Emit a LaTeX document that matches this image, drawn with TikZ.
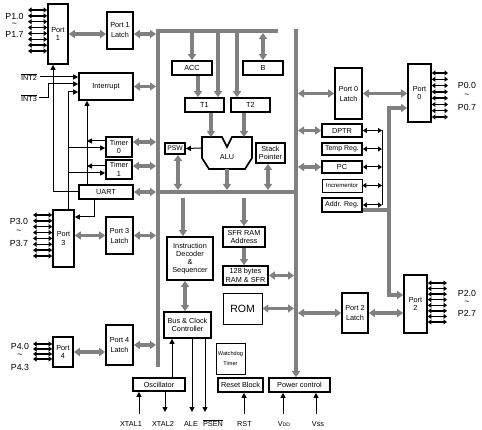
\documentclass[tikz,border=0pt]{standalone}
\usepackage{fontspec}
\setmainfont{Liberation Sans}
\usetikzlibrary{arrows.meta}
\definecolor{gbus}{RGB}{128,128,128}
\begin{document}
\begin{tikzpicture}[x=1pt,y=-1pt,
  box/.style={draw, line width=1.7pt, align=center, inner sep=0pt, font=\fontsize{7.3}{8.5}\selectfont},
  latch/.style={box, font=\fontsize{7.3}{10}\selectfont},
  thinbox/.style={box, line width=0.9pt},
  gl/.style={draw=gbus, line width=4pt},
  gc/.style={draw=gbus, line width=3.5pt},
  g1/.style={gc, -{Triangle[length=6pt,width=8pt]}},
  g2/.style={gc, {Triangle[length=6pt,width=8pt]}-{Triangle[length=6pt,width=8pt]}},
  sig/.style={line width=1pt, -{Triangle[length=5pt,width=5pt]}},
  sig2/.style={line width=1pt, {Triangle[length=4pt,width=5pt]}-{Triangle[length=4pt,width=5pt]}},
  wire/.style={line width=1pt},
  pin/.style={line width=1.4pt, {Triangle[length=3.5pt,width=5pt]}-{Triangle[length=3.5pt,width=5pt]}},
  lbl/.style={font=\fontsize{8.8}{9}\selectfont, inner sep=0pt},
  blbl/.style={font=\fontsize{7.3}{8}\selectfont, inner sep=0pt}]
\fill[white] (0,0) rectangle (482,430);
\useasboundingbox (0,0) rectangle (482,430);

% bus reference coordinates
\coordinate (busL) at (158,0);
\coordinate (busR) at (296,0);
\coordinate (bLl) at (156,0);
\coordinate (bRl) at (294,0);
\coordinate (bRr) at (298,0);
\coordinate (bTb) at (0,33);
\coordinate (bMt) at (0,190);
\coordinate (bMg) at (0,198);

% ---------- left column ----------
\node[box,minimum width=20pt,minimum height=60pt] (port1) at (58,34) {Port\\1};
\node[latch,minimum width=26pt,minimum height=37pt] (p1l) at (120,30.5) {Port 1\\Latch};
\node[box,minimum width=54pt,minimum height=27pt] (intr) at (106,86.5) {Interrupt};
\node[box,minimum width=26pt,minimum height=20pt] (tim0) at (119,147) {Timer\\0};
\node[box,minimum width=26pt,minimum height=19pt] (tim1) at (119,169.5) {Timer\\1};
\node[box,minimum width=54pt,minimum height=14pt] (uart) at (106,192) {UART};
\node[box,minimum width=21pt,minimum height=57pt] (port3) at (63.5,238.5) {Port\\3};
\node[latch,minimum width=27pt,minimum height=37pt] (p3l) at (119.5,235.5) {Port 3\\Latch};
\node[box,minimum width=20pt,minimum height=30pt] (port4) at (63,352) {Port\\4};
\node[latch,minimum width=27pt,minimum height=40pt] (p4l) at (119.5,345) {Port 4\\Latch};

% ---------- centre ----------
\node[box,minimum width=40pt,minimum height=14pt] (acc) at (192,68) {ACC};
\node[box,minimum width=40pt,minimum height=14pt] (regb) at (263,68) {B};
\node[box,minimum width=39pt,minimum height=14pt] (t1) at (204.5,105) {T1};
\node[box,minimum width=39pt,minimum height=14pt] (t2) at (250.5,105) {T2};
\node[box,minimum width=20pt,minimum height=11pt,font=\fontsize{6.8}{7}\selectfont] (psw) at (175,148.5) {PSW};
\node[box,minimum width=29pt,minimum height=20pt] (sp) at (270.5,153) {Stack\\Pointer};
\draw[line width=1.7pt] (202,137) -- (222,137) -- (227,147) -- (232,137) -- (252,137) -- (252,158) -- (245,169) -- (209,169) -- (202,158) -- cycle;
\node[font=\fontsize{7.3}{8}\selectfont, inner sep=0pt] (alu) at (227,157) {ALU};
\coordinate (aluT) at (0,137);
\coordinate (aluL) at (202,148);
\coordinate (aluB) at (227,169);
\node[box,minimum width=46pt,minimum height=43pt,font=\fontsize{7.3}{8}\selectfont] (idec) at (190,258.5) {Instruction\\Decoder\\\&\\Sequencer};
\node[box,minimum width=42pt,minimum height=20pt] (sfr) at (244,237) {SFR RAM\\Address};
\node[box,minimum width=45pt,minimum height=19pt] (ram) at (245.5,275.5) {128 bytes\\RAM \& SFR};
\node[thinbox,minimum width=39pt,minimum height=31pt,font=\fontsize{10.5}{11}\selectfont] (rom) at (242.5,308.5) {ROM};
\node[box,minimum width=47pt,minimum height=26pt] (bcc) at (187.5,325) {Bus \& Clock\\Controller};
\node[thinbox,minimum width=29pt,minimum height=31pt,font=\fontsize{5.6}{10}\selectfont] (wdt) at (230.5,358.5) {Watchdog\\Timer};
\node[box,minimum width=45pt,minimum height=14pt] (rst) at (240.5,385) {Reset Block};
\node[box,minimum width=61pt,minimum height=14pt] (pwr) at (299.5,385) {Power control};
\node[box,minimum width=52pt,minimum height=13pt] (osc) at (159,384.5) {Oscillator};

% ---------- right column ----------
\node[latch,minimum width=27pt,minimum height=51pt] (p0l) at (348.5,93.5) {Port 0\\Latch};
\node[box,minimum width=23pt,minimum height=58pt] (port0) at (419.5,93) {Port\\0};
\node[box,minimum width=40pt,minimum height=13pt] (dptr) at (342,130.5) {DPTR};
\node[box,minimum width=40pt,minimum height=12pt,font=\fontsize{7}{8}\selectfont] (temp) at (342,149) {Temp Reg.};
\node[box,minimum width=40pt,minimum height=12pt] (pc) at (342,167) {PC};
\node[thinbox,minimum width=40pt,minimum height=13pt,font=\fontsize{6}{6.5}\selectfont] (inc) at (342,185.5) {Incrementor};
\node[box,minimum width=40pt,minimum height=14pt,font=\fontsize{7}{8}\selectfont] (addr) at (342,205) {Addr. Reg.};
\node[latch,minimum width=26pt,minimum height=40pt] (p2l) at (355,313) {Port 2\\Latch};
\node[box,minimum width=23pt,minimum height=58pt] (port2) at (415.5,304) {Port\\2};

% ---------- buses ----------
\draw[gl] (busL |- 0,29) -- (busL |- 0,367);
\draw[gl] (156,31) -- (278,31);
\draw[gl] (busL |- 0,192) -- (busR |- 0,192);
\draw[gl, -{Triangle[length=6pt,width=8pt]}] (busR |- 0,29) -- (busR |- pwr.north);

% ---------- grey connectors, left ----------
\draw[g2] (port1.east) -- (port1.east -| p1l.west);
\draw[g2] (p1l.east |- port1.east) -- (bLl |- port1.east);
\draw[g2] (intr.east) -- (intr.east -| bLl);
\draw[g2] ([yshift=5pt]tim0.east) -- ([yshift=5pt]tim0.east -| bLl);
\draw[g2] ([yshift=3.5pt]tim1.east) -- ([yshift=3.5pt]tim1.east -| bLl);
\draw[g2] (uart.east) -- (uart.east -| bLl);
\draw[g2] (p3l.east) -- (p3l.east -| bLl);
\draw[g2] (port3.east |- p3l.west) -- (p3l.west);
\draw[g2] (p4l.east) -- (p4l.east -| bLl);
\draw[g2] (port4.east) -- (port4.east -| p4l.west);

% ---------- grey connectors, centre ----------
\draw[g1] (acc.north |- bTb) -- (acc.north);
\draw[g2] (regb.north |- bTb) -- (regb.north);
\draw[g1] ([xshift=13.5pt]t1.north |- bTb) -- ([xshift=13.5pt]t1.north);
\draw[g1] ([xshift=-13.5pt]t2.north |- bTb) -- ([xshift=-13.5pt]t2.north);
\draw[g1] ([xshift=6pt]acc.south) -- ([xshift=6pt]acc.south |- t1.north);
\draw[g1] ([xshift=6.5pt]t1.south) -- ([xshift=6.5pt]t1.south |- aluT);
\draw[g1] ([xshift=-6.5pt]t2.south) -- ([xshift=-6.5pt]t2.south |- aluT);
\draw[sig] (aluL) -- (psw.east);
\draw[g2] ([xshift=3pt]psw.south) -- ([xshift=3pt]psw.south |- bMt);
\draw[g1] (aluB) -- (aluB |- bMt);
\draw[g2] ([xshift=-2.5pt]sp.south) -- ([xshift=-2.5pt]sp.south |- bMt);
\draw[g1] ([xshift=-7pt]idec.north |- bMg) -- ([xshift=-7pt]idec.north);
\draw[g1] (sfr.north |- bMg) -- (sfr.north);
\draw[g1] (sfr.south) -- (sfr.south |- ram.north);
\draw[g2] (ram.east) -- (ram.east -| bRl);
\draw[g2] (rom.east) -- (rom.east -| bRl);
\draw[g2] ([xshift=-5pt]idec.south) -- ([xshift=-5pt]idec.south |- bcc.north);

% ---------- grey connectors, right ----------
\draw[g2] (bRr |- p0l.west) -- (p0l.west);
\draw[g2] (p0l.east) -- (p0l.east -| port0.west);
\draw[g2] (bRr |- dptr.west) -- (dptr.west);
\draw[g2] (bRr |- pc.west) -- (pc.west);
\draw[g2] (bRr |- p2l.west) -- (p2l.west);
\draw[g2] (p2l.east) -- (p2l.east -| port2.west);
\coordinate (gx) at (389,210);
\draw[gc] ([yshift=-5pt]addr.east) -- (gx);
\draw[g1] (gx) |- ([yshift=-15pt]port0.west);
\draw[g1] (gx) |- ([yshift=9pt]port2.west);

% ---------- black connectors, right ----------
\coordinate (vx) at (382,0);
\draw[wire] (dptr.east -| vx) -- (addr.east -| vx);
\foreach \n in {dptr,temp,pc,inc,addr} \draw[sig2] (\n.east) -- (\n.east -| vx);

% ---------- black wires, left ----------
\coordinate (v68) at (68,0);
\coordinate (v87) at (87,0);
\coordinate (i2) at (40,77);
\coordinate (i3) at (39,98);
\coordinate (i3b) at (48,84);
\node[lbl,font=\fontsize{7.3}{8}\selectfont] (int2) at (29,77) {$\overline{\hbox{INT2}}$};
\node[lbl,font=\fontsize{7.3}{8}\selectfont] (int3) at (29,98) {$\overline{\hbox{INT3}}$};
\draw[sig] (i2) -- (i2 -| intr.west);
\draw[sig] (i3) -| (i3b) -- (i3b -| intr.west);
\draw[sig] (port3.north -| v68) |- ([yshift=-5.5pt]intr.west);
\draw[sig] ([yshift=-1pt]tim0.west -| v68) -- ([yshift=-1pt]tim0.west);
\draw[sig] ([yshift=-3.5pt]tim1.west -| v68) -- ([yshift=-3.5pt]tim1.west);
\draw[sig] ([yshift=6pt]tim0.west) -- ([yshift=6pt]tim0.west -| v87);
\draw[sig] ([yshift=3.5pt]tim1.west) -- ([yshift=3.5pt]tim1.west -| v87);
\draw[sig] (v87 |- uart.north) -- (v87 |- intr.south);
\draw[sig] (uart.west) -| ([xshift=-5pt]port1.south);
\draw[sig] ([xshift=-12pt]uart.south) |- ([yshift=21.5pt]port3.east);

% ---------- pins ----------
\foreach \i in {0,...,7} {
  \coordinate (pa\i) at (28,{10+\i*5.857});
  \draw[pin] (pa\i) -- (pa\i -| port1.west);
  \coordinate (pb\i) at (448,{73+\i*6.29});
  \draw[pin] (pb\i -| port0.east) -- (pb\i);
  \coordinate (pc\i) at (33,{215+\i*5.857});
  \draw[pin] (pc\i) -- (pc\i -| port3.west);
  \coordinate (pd\i) at (447,{283+\i*5.57});
  \draw[pin] (pd\i -| port2.east) -- (pd\i);
}
\foreach \i in {0,...,3} {
  \coordinate (pe\i) at (33,{344+\i*5});
  \draw[pin] (pe\i) -- (pe\i -| port4.west);
}

% ---------- pin labels ----------
\node[lbl] (l10) at (14.5,16) {P1.0};
\node[lbl] (l1t) at (14.5,25) {\textasciitilde};
\node[lbl] (l17) at (14.5,34) {P1.7};
\node[lbl] (l30) at (19,221) {P3.0};
\node[lbl] (l3t) at (19,232) {\textasciitilde};
\node[lbl] (l37) at (19,243) {P3.7};
\node[lbl] (l40) at (20,346) {P4.0};
\node[lbl] (l4t) at (20,356) {\textasciitilde};
\node[lbl] (l43) at (20,367) {P4.3};
\node[lbl] (l00) at (467,85) {P0.0};
\node[lbl] (l0t) at (467,96) {\textasciitilde};
\node[lbl] (l07) at (467,107) {P0.7};
\node[lbl] (l20) at (467,293) {P2.0};
\node[lbl] (l2t) at (467,303) {\textasciitilde};
\node[lbl] (l27) at (467,313) {P2.7};

% ---------- bottom signals ----------
\coordinate (x1) at (139,414);
\coordinate (x2) at (165,412);
\coordinate (ale) at (192,412);
\coordinate (psen) at (205,412);
\coordinate (rstc) at (244,414);
\coordinate (vdd) at (283,414);
\coordinate (vss) at (316,414);
\draw[sig] (x1) -- (x1 |- osc.south);
\draw[sig] (x2 |- osc.south) -- (x2);
\draw[sig] ([xshift=13pt]osc.north) -- ([xshift=13pt]osc.north |- bcc.south);
\draw[sig] (ale |- bcc.south) -- (ale);
\draw[sig] (psen |- bcc.south) -- (psen);
\draw[sig] (rstc) -- (rstc |- rst.south);
\draw[sig] (vdd) -- (vdd |- pwr.south);
\draw[sig] (vss) -- (vss |- pwr.south);
\node[blbl] (lx1) at (131,424) {XTAL1};
\node[blbl] (lx2) at (163,424) {XTAL2};
\node[blbl] (lale) at (191,424) {ALE};
\node[blbl] (lpsen) at (213,423) {$\overline{\hbox{PSEN}}$};
\node[blbl] (lrst) at (244.5,424) {RST};
\node[blbl] (lvdd) at (284,424) {V{\fontsize{5}{5}\selectfont DD}};
\node[blbl] (lvss) at (318,424) {Vss};
\end{tikzpicture}
\end{document}
